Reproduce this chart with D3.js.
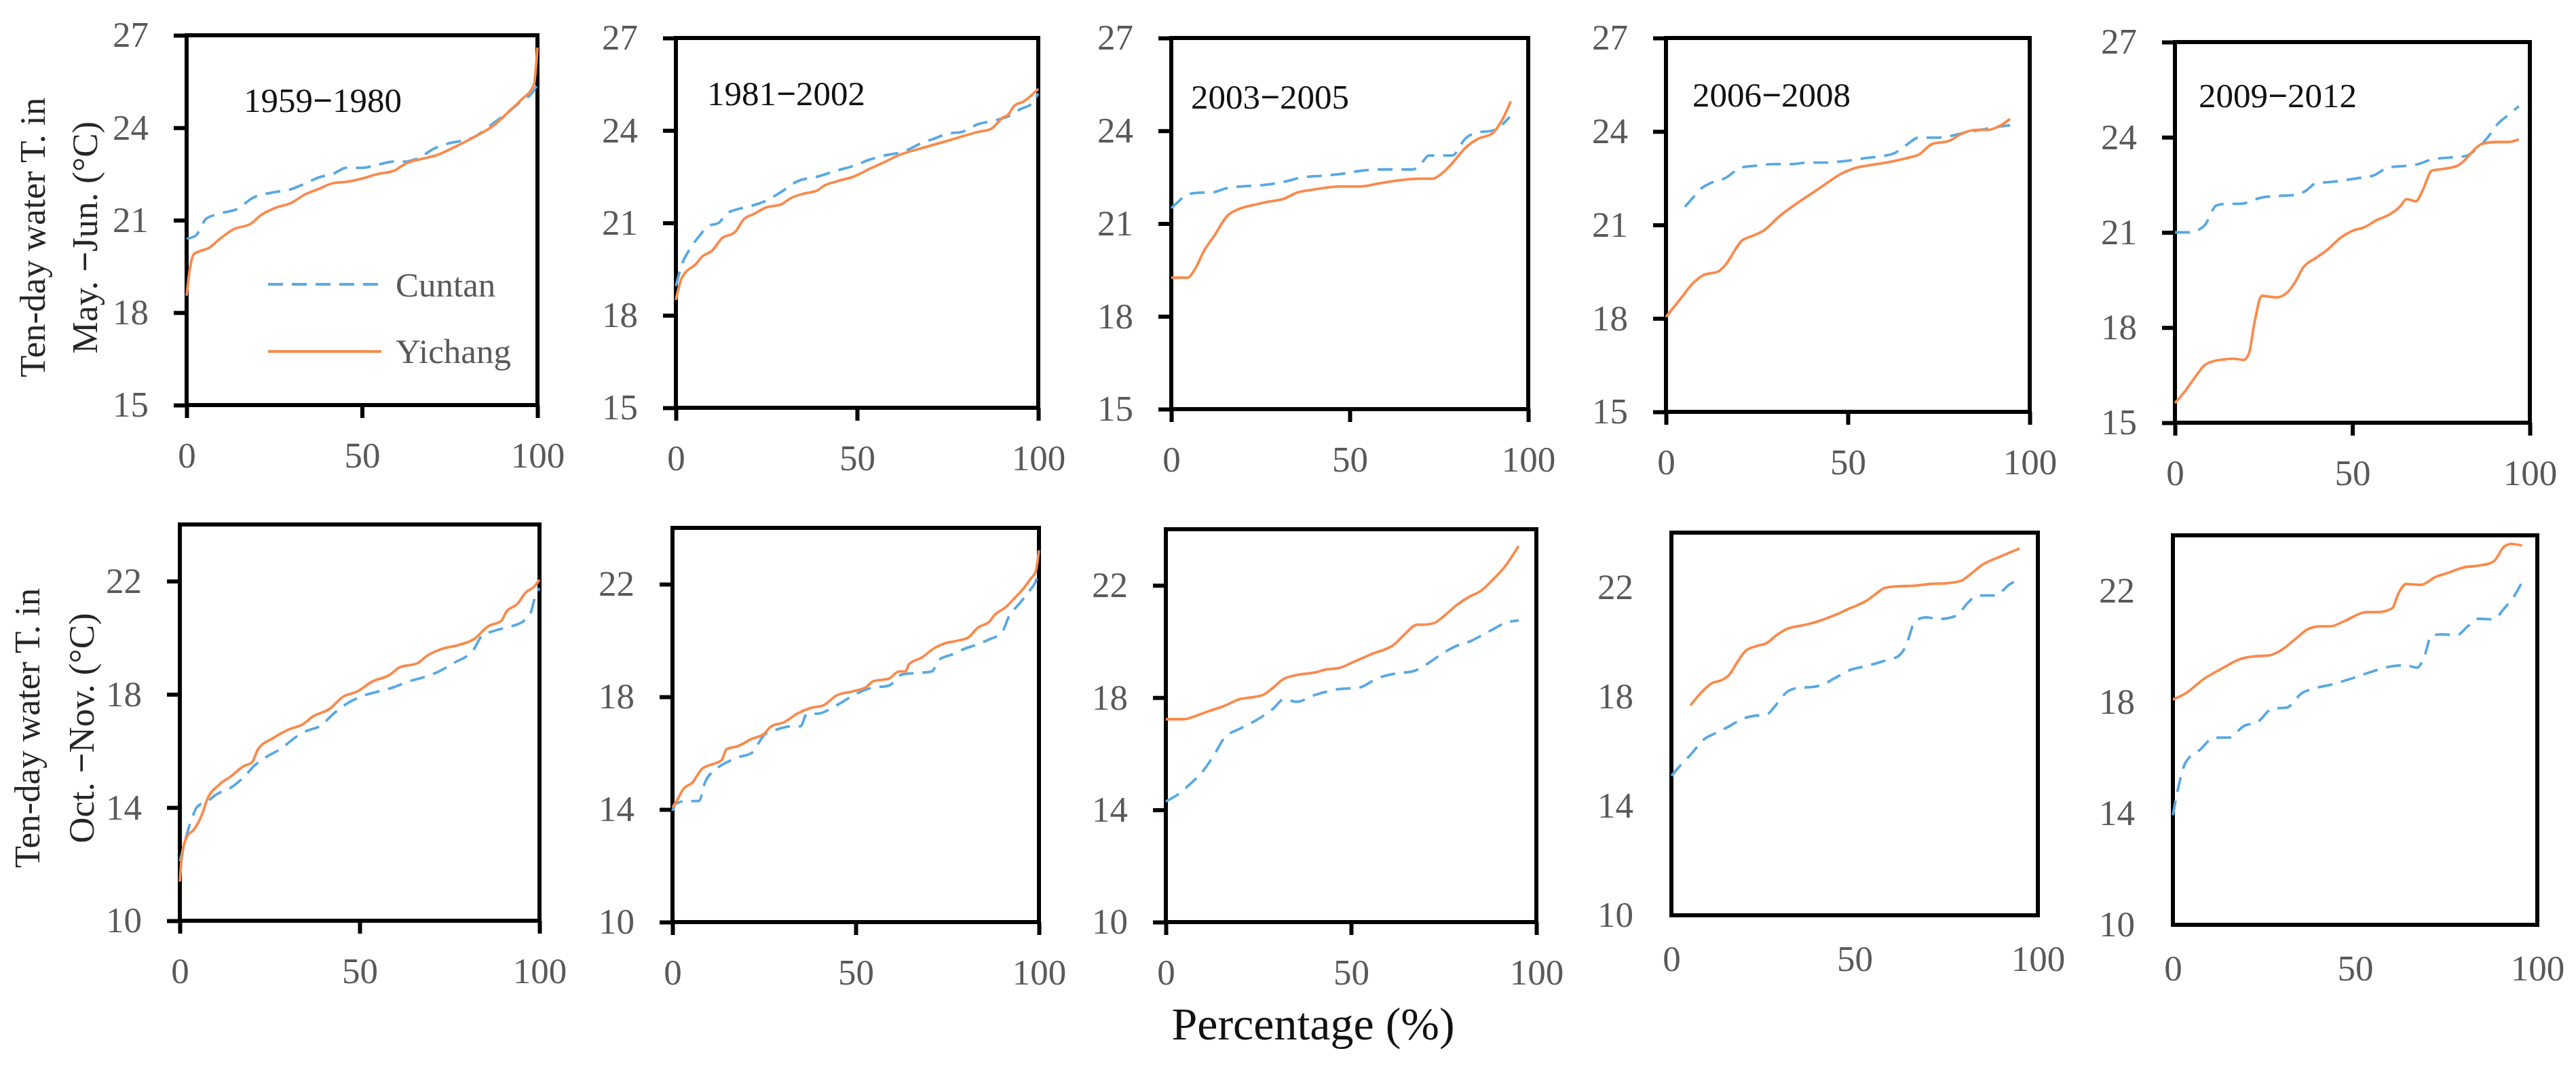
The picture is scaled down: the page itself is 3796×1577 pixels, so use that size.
<!DOCTYPE html>
<html>
<head>
<meta charset="utf-8">
<script src="https://cdn.jsdelivr.net/npm/d3@7"></script>
<style>
  body { margin: 0; background: #fff; }
  text { font-family: "Liberation Serif", "Times New Roman", serif; }
</style>
</head>
<body>
<svg id="chart" width="3796" height="1577"></svg>
<script>

// ---- data: [percentage, ten-day water temperature] ----
const periodLabels = [["1959","1980"],["1981","2002"],["2003","2005"],["2006","2008"],["2009","2012"]];
const mayJunTicks = [15, 18, 21, 24, 27];
const octNovTicks = [10, 14, 18, 22];
const pctTicks = [0, 50, 100];
const seriesNames = ["Cuntan", "Yichang"];

// May.-Jun.
const cuntanMJ1 = [[0,20.4],[2.6,20.5],[5.6,21.05],[9,21.2],[15,21.4],[18.5,21.7],[24.5,21.9],[29.6,22.0],[34,22.2],[38,22.4],[41.7,22.5],[45.5,22.7],[50,22.7],[54.5,22.8],[59,22.9],[62,22.9],[65.7,23.0],[71,23.35],[75,23.5],[79.5,23.6],[82,23.7],[86.9,24.1],[91.6,24.5],[95.3,24.85],[98.6,25.15],[100,25.4]];
const yichangMJ1 = [[0,18.55],[0.9,19.4],[2.1,19.9],[3.9,20.0],[6.4,20.1],[9,20.35],[13.3,20.7],[18.5,20.9],[21,21.15],[25.3,21.4],[29.6,21.55],[34,21.85],[37.4,22.0],[41.7,22.2],[46,22.25],[50,22.35],[54.5,22.5],[59,22.6],[62.7,22.85],[67.4,23.0],[71,23.1],[76,23.35],[82,23.7],[87.8,24.1],[91.6,24.5],[95.3,24.9],[99,25.4],[99.6,26.0],[100,26.6]];
const cuntanMJ2 = [[0,18.95],[1.8,19.7],[3.6,20.1],[6.3,20.55],[9,20.9],[11.8,21.0],[14,21.3],[17.2,21.45],[20.8,21.55],[24.5,21.7],[29,22.0],[33.5,22.35],[39,22.5],[44.4,22.7],[49,22.85],[53.4,23.05],[58,23.2],[62.5,23.3],[68,23.6],[71.6,23.75],[75,23.9],[78.8,23.95],[83.3,24.2],[87,24.3],[91.6,24.45],[95.2,24.7],[98,24.85],[100,25.2]];
const yichangMJ2 = [[0,18.5],[1.4,19.15],[2.7,19.4],[5.4,19.65],[7.2,19.9],[10,20.1],[12.7,20.5],[16.3,20.7],[18.6,21.1],[21.7,21.3],[24.9,21.5],[29,21.6],[31.7,21.8],[35.3,21.95],[39,22.05],[40.8,22.2],[44.4,22.35],[49,22.5],[53.4,22.75],[58,23.0],[61.6,23.2],[67,23.4],[71.6,23.55],[76,23.7],[78.8,23.8],[83.3,23.95],[87,24.05],[88.4,24.2],[90,24.4],[91.6,24.5],[93.4,24.8],[96.1,24.95],[100,25.35]];
const cuntanMJ3 = [[0,21.5],[1.9,21.7],[4.6,21.95],[8.3,22.0],[11,22.0],[15.7,22.15],[19.4,22.2],[25.9,22.25],[31.5,22.35],[37,22.5],[42.6,22.55],[47.2,22.6],[52.8,22.7],[57.4,22.75],[63,22.75],[67.6,22.75],[69.4,22.85],[72.2,23.2],[75,23.2],[78.7,23.2],[82.4,23.75],[86.1,23.95],[89.8,24.0],[92.7,24.2],[94.8,24.45]];
const yichangMJ3 = [[0,19.25],[4.6,19.25],[6.5,19.5],[9.3,20.15],[12,20.6],[15.7,21.25],[18.5,21.45],[23,21.6],[26.9,21.7],[31.5,21.8],[35.2,22.0],[39.8,22.1],[47.2,22.2],[52.8,22.2],[58.3,22.3],[63.9,22.4],[69.4,22.45],[73.1,22.45],[75,22.55],[78.7,22.95],[82.4,23.45],[86.1,23.75],[89.8,23.9],[92.7,24.35],[95.1,24.95]];
const cuntanMJ4 = [[5.2,21.58],[7.6,21.9],[10,22.2],[12.4,22.35],[16.2,22.5],[20.9,22.85],[24.7,22.9],[29.5,22.95],[34.2,22.95],[39,23.0],[43.7,23.0],[47.5,23.03],[51.3,23.08],[55.1,23.15],[58.9,23.2],[62.7,23.3],[66.5,23.6],[69.4,23.8],[74.1,23.8],[77.9,23.85],[81.7,23.95],[86.5,24.05],[91.3,24.15],[94.6,24.2]];
const yichangMJ4 = [[0,18.05],[3.8,18.6],[7.6,19.15],[10.5,19.4],[14.3,19.5],[16.2,19.7],[20.9,20.5],[23.8,20.65],[26.6,20.8],[31.4,21.3],[36.1,21.7],[39.9,22.0],[43.7,22.3],[47.5,22.6],[51.3,22.8],[55.1,22.9],[58.9,22.97],[62.7,23.05],[67.4,23.18],[69.4,23.25],[73.2,23.6],[77.9,23.7],[81.7,23.95],[85.6,24.05],[88.4,24.05],[91.3,24.15],[94.6,24.4]];
const cuntanMJ5 = [[0,21.0],[4.1,21.0],[8.2,21.2],[11.7,21.85],[14.3,21.9],[18.4,21.9],[24.5,22.1],[29.6,22.15],[34.7,22.2],[36.7,22.3],[39.8,22.55],[44.9,22.6],[51,22.7],[56.1,22.8],[60.2,23.05],[65.3,23.1],[68.4,23.15],[72.4,23.3],[76.5,23.35],[81.6,23.4],[84.7,23.6],[87.8,23.95],[90.8,24.4],[93.9,24.7],[96.9,24.98]];
const yichangMJ5 = [[0,15.62],[3.1,16.03],[6.1,16.5],[8.2,16.8],[11.2,16.95],[14.3,17.0],[16.3,17.02],[19.4,16.98],[20.9,17.2],[22.4,18.15],[24.5,19.0],[28.6,18.95],[31.6,19.1],[33.7,19.4],[36.2,19.9],[39.8,20.2],[42.9,20.45],[46.9,20.85],[50,21.05],[53.1,21.15],[57.1,21.4],[60.2,21.55],[63.3,21.8],[65.3,22.05],[67.9,21.98],[69.9,22.35],[72.4,22.95],[75.5,23.0],[79.6,23.1],[81.6,23.27],[84.7,23.65],[86.7,23.8],[90.8,23.85],[93.9,23.85],[96.9,23.93]];

// Oct.-Nov.
const cuntanON1 = [[0,12.1],[1.3,12.75],[2.9,13.45],[5,14.05],[7.5,14.2],[10,14.45],[14.2,14.7],[17.6,15.05],[20.9,15.5],[24.2,15.8],[28.4,16.1],[31.8,16.45],[35.1,16.7],[39.3,16.9],[42.6,17.3],[46.8,17.7],[51,17.95],[55.2,18.1],[59.4,18.25],[63.5,18.45],[67.7,18.6],[71.9,18.8],[76.1,19.1],[81.8,19.6],[83.9,20.05],[87.6,20.25],[92.1,20.4],[95.7,20.6],[97.6,20.9],[98.9,21.5],[100,21.75]];
const yichangON1 = [[0,11.38],[0.6,12.3],[2.1,13.0],[3.8,13.2],[6.3,13.8],[7.5,14.25],[10.9,14.8],[14.2,15.1],[17.6,15.45],[20.1,15.6],[21.7,16.05],[25.9,16.45],[30.1,16.75],[34.3,16.95],[36.8,17.2],[41.8,17.5],[45.2,17.9],[49.3,18.1],[53.5,18.45],[58.5,18.7],[61,18.95],[66.1,19.1],[68.6,19.35],[72.8,19.6],[77.8,19.75],[81.8,19.95],[85.7,20.4],[89.4,20.6],[90.7,20.9],[93.9,21.2],[96.2,21.6],[98.5,21.8],[100,22.05]];
const cuntanON2 = [[0,13.95],[0.9,14.2],[3.6,14.3],[7.2,14.3],[9,15.0],[11.6,15.4],[15.2,15.7],[17.9,15.85],[21.5,16.0],[25.1,16.65],[28.7,16.85],[32.3,16.95],[34.9,16.95],[36.7,17.4],[39.4,17.4],[44.8,17.7],[49.3,18.05],[53.8,18.3],[59.1,18.4],[62.7,18.8],[67.2,18.85],[70.8,18.9],[72.6,19.3],[76.2,19.5],[80.6,19.75],[83,19.85],[86.6,20.05],[89.7,20.25],[92,20.9],[94.6,21.3],[97.3,21.75],[99.1,22.1],[100,22.45]];
const yichangON2 = [[0,14.07],[0.9,14.25],[3.1,14.75],[5.4,14.95],[8.1,15.45],[10.8,15.6],[13.4,15.75],[14.8,16.15],[17.9,16.25],[21.5,16.5],[25.1,16.7],[26.9,16.95],[30.5,17.1],[34,17.4],[37.6,17.6],[41.2,17.7],[44.8,18.05],[49.3,18.2],[52.9,18.35],[54.7,18.55],[59.1,18.65],[61.8,18.9],[63.6,18.9],[64.5,19.15],[68.1,19.4],[71.7,19.75],[74.4,19.9],[78,20.0],[80.6,20.1],[83.3,20.45],[86.7,20.7],[87.5,20.85],[91.1,21.2],[93.3,21.5],[95.5,21.8],[97.8,22.2],[99.1,22.45],[100,23.2]];
const cuntanON3 = [[0,14.3],[3.3,14.55],[6.8,14.95],[9.5,15.3],[13,15.95],[15.7,16.55],[20.1,16.9],[24.5,17.2],[28.9,17.6],[32,17.95],[35.1,17.85],[40.4,18.1],[46.6,18.3],[52,18.35],[57.3,18.7],[61.7,18.85],[67,18.95],[70.5,19.2],[75,19.6],[78.5,19.85],[82,20.0],[85,20.2],[88.5,20.45],[91.4,20.65],[95.2,20.75]];
const yichangON3 = [[0,17.23],[5,17.23],[7.7,17.33],[11.2,17.5],[15.7,17.7],[20.1,17.95],[22.7,18.0],[26.3,18.1],[28.9,18.35],[31.6,18.65],[35.1,18.8],[40.4,18.9],[43.1,19.0],[46.6,19.05],[51.1,19.3],[55.5,19.55],[61.7,19.9],[64.4,20.25],[67.9,20.6],[69.7,20.6],[72.3,20.65],[75,20.9],[78.5,21.3],[82,21.6],[85,21.8],[88.6,22.25],[91.4,22.65],[95.2,23.4]];
const cuntanON4 = [[0,15.1],[2.4,15.48],[5.2,15.87],[9,16.45],[11.8,16.65],[15.6,16.9],[19.4,17.19],[22.2,17.29],[26,17.35],[28.8,17.74],[31.7,18.19],[34.5,18.32],[38.3,18.35],[41.1,18.43],[44.9,18.7],[48.7,18.97],[52.5,19.1],[56.2,19.23],[59.1,19.35],[61.9,19.48],[63.8,19.8],[66.6,20.77],[69.4,20.9],[73.2,20.84],[77.9,20.97],[80.8,21.42],[83.6,21.7],[88.4,21.7],[92.2,22.1],[95,22.3]];
const yichangON4 = [[5.2,17.68],[8,18.13],[10.9,18.48],[13.7,18.6],[15.6,18.77],[18.4,19.35],[20.3,19.68],[23.2,19.85],[26,19.96],[28.8,20.26],[31.7,20.49],[34.5,20.58],[37.3,20.65],[41.1,20.8],[44.9,21.0],[48.7,21.23],[53.4,21.52],[56.2,21.8],[58.1,21.97],[61,22.03],[66.6,22.06],[70.4,22.12],[75.1,22.15],[78.9,22.23],[81.8,22.5],[84.6,22.8],[89.3,23.1],[95,23.42]];
const cuntanON5 = [[0,13.94],[1.5,14.95],[3.5,15.84],[7.4,16.29],[11.4,16.73],[15.4,16.73],[19.4,17.14],[23.3,17.3],[27.3,17.77],[31.3,17.81],[35.3,18.32],[39.2,18.51],[44.2,18.66],[49.2,18.86],[54.1,19.08],[59.1,19.27],[64,19.33],[67,19.24],[69,19.65],[71,20.41],[74,20.44],[77.9,20.41],[80.9,20.73],[83.9,21.0],[87.9,20.98],[90.9,21.37],[93.9,21.87],[95.8,22.32]];
const yichangON5 = [[0,18.1],[3.5,18.32],[8.4,18.83],[13.4,19.21],[18.4,19.55],[22.3,19.65],[26.3,19.68],[29.3,19.84],[34.3,20.35],[37.2,20.64],[40.2,20.73],[43.2,20.73],[47.1,20.92],[53.1,21.24],[56.1,21.24],[60.1,21.37],[62,21.94],[64,22.25],[68,22.22],[72,22.5],[75.9,22.67],[79.9,22.85],[83.9,22.91],[87.9,23.05],[90.9,23.59],[92.8,23.69],[95.8,23.63]];

// ---- layout ----
const svg = d3.select("#chart");
const cuntanColor = "#58a8e2", yichangColor = "#f98a4c";
const tickColor = "#595959";
const frameW = 6, lineW = 3.8, dash = "22,13";

// frame boxes for each panel (pixels)
const panels = [
  { x0: 275,  x1: 792,  y0: 52,  y1: 597, row: 0, ticks: true, c: cuntanMJ1, yc: yichangMJ1, title: periodLabels[0], tx: 359,  ty: 165 },
  { x0: 996,  x1: 1530, y0: 56,  y1: 601, row: 0, ticks: true, c: cuntanMJ2, yc: yichangMJ2, title: periodLabels[1], tx: 1042, ty: 155 },
  { x0: 1726, x1: 2252, y0: 56,  y1: 603, row: 0, ticks: true, c: cuntanMJ3, yc: yichangMJ3, title: periodLabels[2], tx: 1755, ty: 160 },
  { x0: 2455, x1: 2991, y0: 56,  y1: 607, row: 0, ticks: true, c: cuntanMJ4, yc: yichangMJ4, title: periodLabels[3], tx: 2494, ty: 157 },
  { x0: 3205, x1: 3728, y0: 62,  y1: 623, row: 0, ticks: true, c: cuntanMJ5, yc: yichangMJ5, title: periodLabels[4], tx: 3240, ty: 158 },
  { x0: 265,  x1: 795,  y0: 773, y1: 1357, row: 1, ticks: true,  c: cuntanON1, yc: yichangON1 },
  { x0: 991,  x1: 1531, y0: 778, y1: 1359, row: 1, ticks: true,  c: cuntanON2, yc: yichangON2 },
  { x0: 1718, x1: 2264, y0: 780, y1: 1359, row: 1, ticks: true,  c: cuntanON3, yc: yichangON3 },
  { x0: 2463, x1: 3003, y0: 785, y1: 1349, row: 1, ticks: false, c: cuntanON4, yc: yichangON4 },
  { x0: 3202, x1: 3739, y0: 789, y1: 1363, row: 1, ticks: false, c: cuntanON5, yc: yichangON5 }
];

function addDashTitle(sel, parts) {
  sel.append("tspan").text(parts[0]);
  sel.append("tspan").attr("font-weight", "bold").text("−");
  sel.append("tspan").text(parts[1]);
}

panels.forEach(p => {
  const x = d3.scaleLinear().domain([0, 100]).range([p.x0, p.x1]);
  const y = d3.scaleLinear().domain(p.row === 0 ? [15, 27] : [10, 24]).range([p.y1, p.y0]);
  const tl = p.ticks ? 19 : 0;
  const g = svg.append("g");

  const yAxis = g.append("g")
    .attr("transform", `translate(${p.x0},0)`)
    .call(d3.axisLeft(y).tickValues(p.row === 0 ? mayJunTicks : octNovTicks)
      .tickSize(tl).tickPadding(56 - tl).tickSizeOuter(0));
  const xAxis = g.append("g")
    .attr("transform", `translate(0,${p.y1})`)
    .call(d3.axisBottom(x).tickValues(pctTicks)
      .tickSize(tl).tickPadding(p.ticks ? 35 : 44).tickSizeOuter(0));

  [yAxis, xAxis].forEach(a => {
    a.select(".domain").remove();
    a.selectAll("line").attr("stroke", "#000").attr("stroke-width", frameW);
    a.selectAll("text")
      .attr("fill", tickColor)
      .style("font-family", "'Liberation Serif', serif")
      .style("font-size", "53px");
  });

  g.append("rect")
    .attr("x", p.x0).attr("y", p.y0)
    .attr("width", p.x1 - p.x0).attr("height", p.y1 - p.y0)
    .attr("fill", "none").attr("stroke", "#000").attr("stroke-width", frameW);

  const line = d3.line().x(d => x(d[0])).y(d => y(d[1])).curve(d3.curveMonotoneX);

  g.append("path").datum(p.c)
    .attr("d", line).attr("fill", "none")
    .attr("stroke", cuntanColor).attr("stroke-width", lineW)
    .attr("stroke-dasharray", dash);
  g.append("path").datum(p.yc)
    .attr("d", line).attr("fill", "none")
    .attr("stroke", yichangColor).attr("stroke-width", lineW);

  if (p.title) {
    const t = g.append("text").attr("x", p.tx).attr("y", p.ty)
      .attr("fill", "#111").style("font-size", "51px");
    addDashTitle(t, p.title);
  }
});

// legend inside first panel
const legend = svg.append("g");
[[cuntanColor, dash, 419, 437], [yichangColor, null, 518, 535]].forEach((s, i) => {
  legend.append("line")
    .attr("x1", 395).attr("x2", 562).attr("y1", s[2]).attr("y2", s[2])
    .attr("stroke", s[0]).attr("stroke-width", lineW)
    .attr("stroke-dasharray", s[1]);
  legend.append("text")
    .attr("x", 583).attr("y", s[3])
    .attr("fill", tickColor).style("font-size", "51px")
    .text(seriesNames[i]);
});

// y-axis titles (two lines, rotated)
function yTitle(cx, cy, lines) {
  lines.forEach((ln, i) => {
    const t = svg.append("text")
      .attr("transform", `translate(${cx[i]},${cy}) rotate(-90)`)
      .attr("text-anchor", "middle").attr("dominant-baseline", "central")
      .attr("fill", "#262626").style("font-size", "53px");
    if (ln.length === 1) t.text(ln[0]);
    else addDashTitle(t, ln);
  });
}
yTitle([48, 125], 350, [["Ten-day water T. in"], ["May. ", "Jun. (°C)"]]);
yTitle([40, 120], 1073, [["Ten-day water T. in"], ["Oct. ", "Nov. (°C)"]]);

// shared x title
svg.append("text")
  .attr("x", 1935).attr("y", 1532)
  .attr("text-anchor", "middle")
  .attr("fill", "#111").style("font-size", "68px")
  .text("Percentage (%)");

</script>
</body>
</html>
